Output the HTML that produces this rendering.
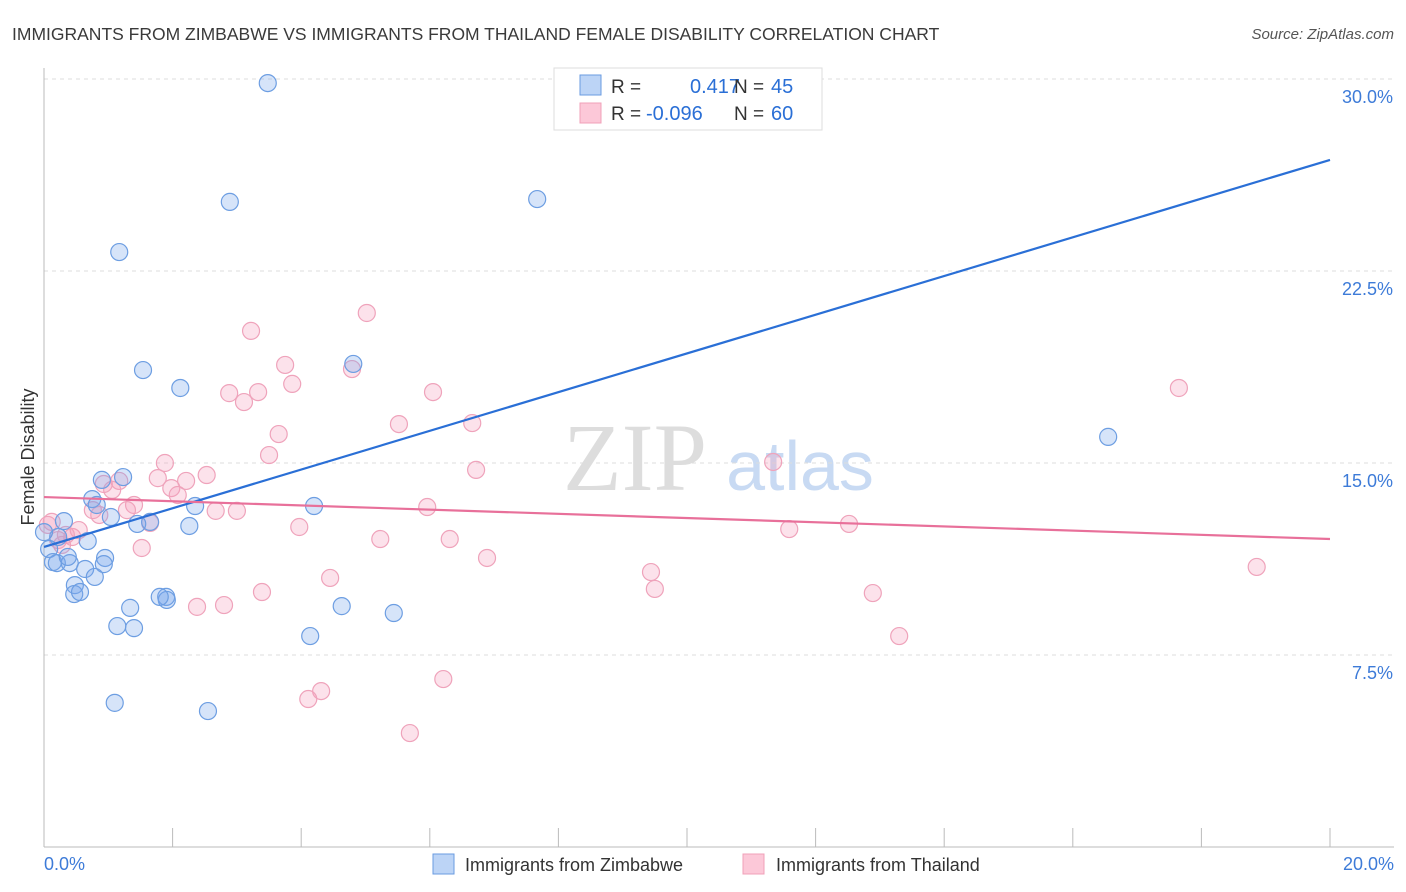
<!DOCTYPE html>
<html><head><meta charset="utf-8"><style>
body{margin:0;background:#fff;font-family:"Liberation Sans",sans-serif;}
svg{display:block}
</style></head><body>
<svg id="chart" width="1406" height="892" xmlns="http://www.w3.org/2000/svg">
<text x="12" y="40" font-size="17.5" fill="#3a3a3a">IMMIGRANTS FROM ZIMBABWE VS IMMIGRANTS FROM THAILAND FEMALE DISABILITY CORRELATION CHART</text>
<text x="1394" y="39" font-size="15" fill="#555" font-style="italic" text-anchor="end">Source: ZipAtlas.com</text>
<text transform="translate(34,457) rotate(-90)" font-size="18" fill="#333" text-anchor="middle">Female Disability</text>
<g><text x="635" y="490" font-size="96" fill="#ddd" font-family="Liberation Serif,serif" text-anchor="middle">ZIP</text><text x="800" y="490" font-size="70" fill="#c8daf3" text-anchor="middle">atlas</text></g>
<g id="grid"></g><g id="axes"></g><g id="pts"></g><g id="lines"></g>
<g>
<rect x="554" y="68" width="268" height="62" fill="#fff" stroke="#ddd"/>
<rect x="580" y="75" width="21" height="20" fill="#bcd4f6" stroke="#6a9be0"/>
<rect x="580" y="103" width="21" height="20" fill="#fcc8d8" stroke="#f0a0b8"/>
<text x="611" y="93" font-size="19" fill="#333">R = </text><text x="690" y="93" font-size="20" fill="#2a6fd6">0.417</text>
<text x="734" y="93" font-size="19" fill="#333">N = </text><text x="771" y="93" font-size="20" fill="#2a6fd6">45</text>
<text x="611" y="120" font-size="19" fill="#333">R = </text><text x="646" y="120" font-size="20" fill="#2a6fd6">-0.096</text>
<text x="734" y="120" font-size="19" fill="#333">N = </text><text x="771" y="120" font-size="20" fill="#2a6fd6">60</text>
</g>
<g>
<rect x="433" y="854" width="21" height="20" fill="#bcd4f6" stroke="#6a9be0"/>
<text x="465" y="871" font-size="18" fill="#333">Immigrants from Zimbabwe</text>
<rect x="743" y="854" width="21" height="20" fill="#fcc8d8" stroke="#f0a0b8"/>
<text x="776" y="871" font-size="18" fill="#333">Immigrants from Thailand</text>
</g>
</svg>
<script>
const yTicks=[7.5,15,22.5,30];
const yTickLabels=["7.5%","15.0%","22.5%","30.0%"];
const xTickLabels=["0.0%","20.0%"];
const blueX=[3.48,2.89,7.67,1.17,1.54,2.12,4.81,16.55,0.90,1.23,0.75,0.82,1.04,1.65,1.45,2.35,2.26,4.20,0.31,0.22,0.68,0.08,0.14,0.20,0.40,0.37,0.64,0.79,0.48,0.95,0.93,0.47,0.56,1.34,1.90,1.91,1.14,1.40,4.14,4.63,5.44,1.10,2.55,0.0,1.80];
const blueY=[29.84,25.20,25.31,23.24,18.63,17.93,18.87,16.02,14.34,14.45,13.59,13.36,12.89,12.70,12.62,13.32,12.54,13.32,12.73,12.11,11.95,11.64,11.13,11.09,11.09,11.33,10.86,10.55,10.23,11.29,11.05,9.88,9.96,9.34,9.77,9.65,8.63,8.55,8.24,9.41,9.14,5.63,5.31,12.30,9.77];
const pinkX=[5.02,3.22,3.75,3.86,4.79,2.88,3.33,3.11,6.05,5.52,6.66,3.65,3.50,1.88,6.72,11.34,17.65,1.77,2.21,2.53,1.17,1.98,2.08,1.06,1.40,1.29,0.76,0.86,2.67,3.00,5.96,3.97,12.52,11.59,5.23,6.31,6.89,0.12,0.22,0.44,0.54,0.34,1.52,4.45,9.44,9.50,3.39,2.80,2.38,12.89,18.86,13.30,6.21,4.31,4.11,5.69,0.93,0.06,0.28,1.65];
const pinkY=[20.86,20.16,18.83,18.09,18.67,17.73,17.77,17.38,17.77,16.52,16.56,16.13,15.31,15.00,14.73,15.04,17.93,14.41,14.30,14.53,14.30,14.02,13.75,13.95,13.36,13.16,13.16,12.97,13.13,13.13,13.28,12.50,12.62,12.42,12.03,12.03,11.29,12.70,11.99,12.11,12.38,12.19,11.68,10.51,10.74,10.08,9.96,9.45,9.38,9.92,10.94,8.24,6.56,6.09,5.78,4.45,14.18,12.58,11.80,12.66];
const blueTrend=[11.72,26.84];
const pinkTrend=[13.67,12.03];
const NS="http://www.w3.org/2000/svg";
const X0=44,X1=1330,Y0=847,PPY=192/7.5;
const sx=v=>X0+(X1-X0)*v/20, sy=v=>Y0-v*PPY;
function mk(tag,attrs,parent){const e=document.createElementNS(NS,tag);for(const k in attrs)e.setAttribute(k,attrs[k]);parent.appendChild(e);return e;}
const grid=document.getElementById('grid'),axes=document.getElementById('axes'),pts=document.getElementById('pts'),lines=document.getElementById('lines');
yTicks.forEach((t,i)=>{
 const l=mk('line',{x1:X0,x2:1394,y1:sy(t),y2:sy(t),stroke:'#ddd','stroke-dasharray':'4,4'},grid);
 
 
 const tx=mk('text',{x:1393,y:sy(t)+24,'font-size':18,fill:'#3d7bd8','text-anchor':'end'},grid);
 tx.textContent=yTickLabels[i];
 
 
});
const ax=mk('line',{x1:X0,x2:X0,y1:68,y2:Y0,stroke:'#bbb'},axes);


const bx=mk('line',{x1:X0,x2:1394,y1:Y0,y2:Y0,stroke:'#bbb'},axes);


for(let i=0;i<=10;i++){
 const t=mk('line',{x1:sx(i*2),x2:sx(i*2),y1:828,y2:Y0,stroke:'#bbb'},axes);
 
 
}
[[0,'start',44],[20,'end',1394]].forEach((a,i)=>{
 const t=mk('text',{x:a[2],y:870,'font-size':18,fill:'#3d7bd8','text-anchor':a[1]},axes);
 t.textContent=xTickLabels[i];
 
 
});
function dots(xs,ys,fill,stroke,name){xs.forEach((x,i)=>{
 const c=mk('circle',{cx:sx(x),cy:sy(ys[i]),r:8.5,fill:fill,stroke:stroke,'stroke-width':1.2},pts);
 
 
});}
dots(pinkX,pinkY,'rgba(244,160,188,0.3)','#efa3bb','thailand-point');
dots(blueX,blueY,'rgba(120,165,235,0.3)','#6d9ee2','zimbabwe-point');
const bl=mk('line',{x1:sx(0),y1:sy(blueTrend[0]),x2:sx(20),y2:sy(blueTrend[1]),stroke:'#2a6fd6','stroke-width':2.2},lines);


const pl=mk('line',{x1:sx(0),y1:sy(pinkTrend[0]),x2:sx(20),y2:sy(pinkTrend[1]),stroke:'#e8709a','stroke-width':2.2},lines);


</script>
</body></html>
